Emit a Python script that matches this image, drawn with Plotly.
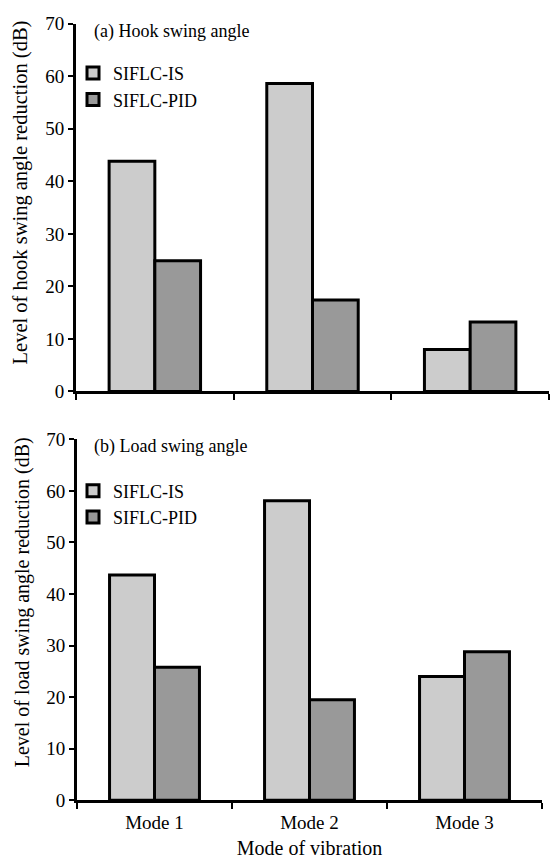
import plotly.graph_objects as go

modes = ["Mode 1", "Mode 2", "Mode 3"]
series_names = ["SIFLC-IS", "SIFLC-PID"]
hook_is = [43.8, 58.6, 8.0]
hook_pid = [24.9, 17.4, 13.2]
load_is = [43.7, 58.1, 24.0]
load_pid = [25.8, 19.5, 28.8]
y_ticks = [0, 10, 20, 30, 40, 50, 60, 70]

colors = ["#cccccc", "#999999"]
W, H = 550, 863
FONT = "Liberation Serif"

def px_x(p):
    return p / W

def px_y(p):
    return 1 - p / H

fig = go.Figure()
for vals, name, col in [(hook_is, series_names[0], colors[0]), (hook_pid, series_names[1], colors[1])]:
    fig.add_trace(go.Bar(x=modes, y=vals, name=name, xaxis="x", yaxis="y", legend="legend",
                         marker=dict(color=col, line=dict(color="black", width=3))))
for vals, name, col in [(load_is, series_names[0], colors[0]), (load_pid, series_names[1], colors[1])]:
    fig.add_trace(go.Bar(x=modes, y=vals, name=name, xaxis="x2", yaxis="y2", legend="legend2",
                         marker=dict(color=col, line=dict(color="black", width=3))))

yax = dict(range=[0, 70], tickvals=y_ticks, ticks="outside", ticklen=5, tickwidth=2, tickcolor="black",
           showline=True, linewidth=3, linecolor="black", showgrid=False, zeroline=False,
           tickfont=dict(family=FONT, size=19, color="black"))
xax = dict(ticks="outside", ticklen=6, tickwidth=2, tickcolor="black", tickson="boundaries",
           showline=True, linewidth=3, linecolor="black", showgrid=False, zeroline=False,
           tickfont=dict(family=FONT, size=19, color="black"))

fig.update_layout(
    width=W, height=H, margin=dict(l=0, r=0, t=0, b=0),
    paper_bgcolor="white", plot_bgcolor="white",
    barmode="group", bargap=0.42, bargroupgap=0,
    font=dict(family=FONT, size=18, color="black"),
    xaxis=dict(xax, domain=[px_x(76), px_x(549)], anchor="y", showticklabels=False),
    yaxis=dict(yax, domain=[px_y(391), px_y(14)], anchor="x"),
    xaxis2=dict(xax, domain=[px_x(77), px_x(542)], anchor="y2", ticklabelstandoff=3,
                title=dict(text="Mode of vibration", font=dict(family=FONT, size=20), standoff=9)),
    yaxis2=dict(yax, domain=[px_y(810), px_y(440)], anchor="x2"),
    legend=dict(x=px_x(73), y=px_y(46), xanchor="left", yanchor="top", bgcolor="rgba(0,0,0,0)",
                font=dict(family=FONT, size=18), tracegroupgap=0, itemwidth=30),
    legend2=dict(x=px_x(73), y=px_y(474), xanchor="left", yanchor="top", bgcolor="rgba(0,0,0,0)",
                 font=dict(family=FONT, size=18), tracegroupgap=0, itemwidth=30),
    annotations=[
        dict(text="(a) Hook swing angle", x=px_x(92), y=px_y(22), xref="paper", yref="paper",
             xanchor="left", yanchor="middle", showarrow=False, font=dict(family=FONT, size=18)),
        dict(text="(b) Load swing angle", x=px_x(92), y=px_y(447), xref="paper", yref="paper",
             xanchor="left", yanchor="middle", showarrow=False, font=dict(family=FONT, size=18)),
        dict(text="Level of hook swing angle reduction (dB)", textangle=-90,
             x=px_x(20), y=px_y(187), xref="paper", yref="paper",
             xanchor="center", yanchor="middle", showarrow=False, font=dict(family=FONT, size=20.5)),
        dict(text="Level of load swing angle reduction (dB)", textangle=-90,
             x=px_x(22), y=px_y(607), xref="paper", yref="paper",
             xanchor="center", yanchor="middle", showarrow=False, font=dict(family=FONT, size=20)),
    ],
)

fig.write_html("out.html")
